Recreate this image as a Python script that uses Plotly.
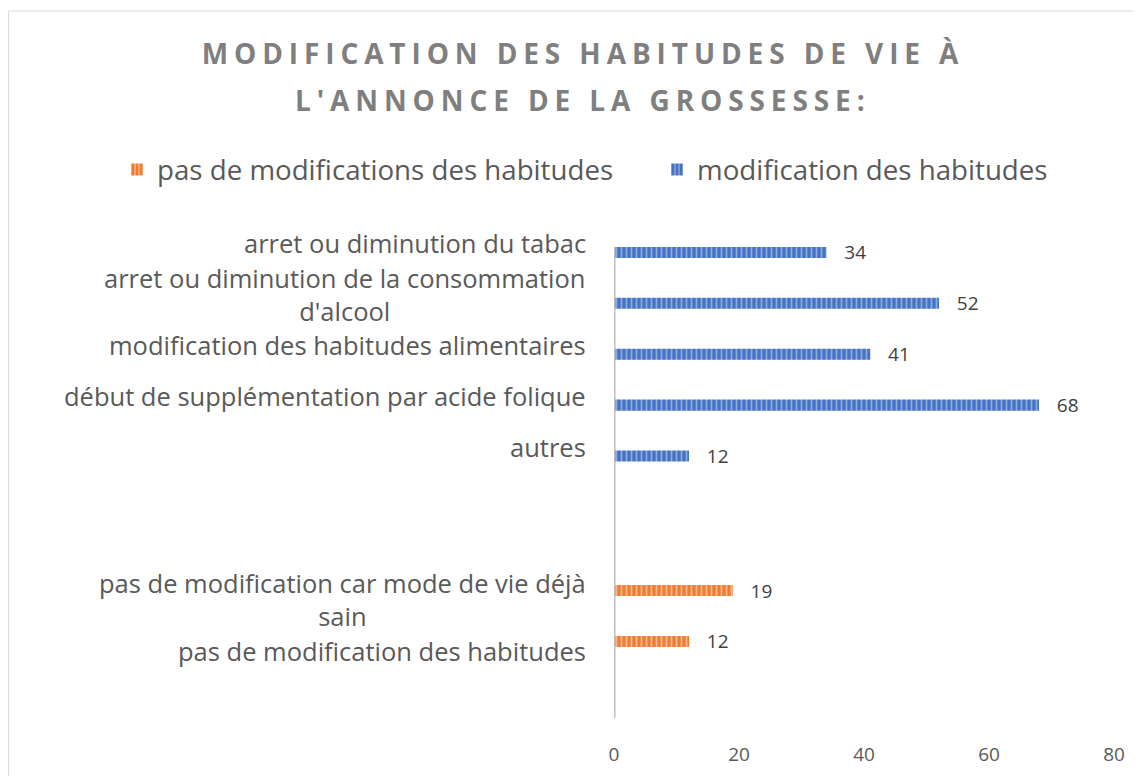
import plotly.graph_objects as go

categories = [
    "arret ou diminution du tabac",
    "arret ou diminution de la consommation<br>d'alcool",
    "modification des habitudes alimentaires",
    "début de supplémentation par acide folique",
    "autres",
    " ",
    "  ",
    "pas de modification car mode de vie déjà<br>sain",
    "pas de modification des habitudes",
]
modif_values = [34, 52, 41, 68, 12, None, None, None, None]
pas_modif_values = [None, None, None, None, None, None, None, 19, 12]
x_ticks = [0, 20, 40, 60, 80]
title_line1 = "MODIFICATION DES HABITUDES DE VIE À"
title_line2 = "L'ANNONCE DE LA GROSSESSE:"

FONT = "Open Sans"
TXT = "#595959"
PAD = "\u00a0\u00a0\u00a0"
SPACING = "letter-spacing:5.9px"

fig = go.Figure()
fig.add_trace(go.Bar(
    name="pas de modifications des habitudes",
    y=categories, x=pas_modif_values, orientation="h",
    marker=dict(color="#ED7D31", line=dict(width=0),
                pattern=dict(shape="|", size=5, solidity=0.35,
                             fgcolor="#F6B88E", bgcolor="#ED7D31", fillmode="replace")),
    text=[(PAD + str(v)) if v is not None else "" for v in pas_modif_values],
    textposition="outside", constraintext="none", cliponaxis=False,
    textfont=dict(family=FONT, size=19, color="#404040"),
))
fig.add_trace(go.Bar(
    name="modification des habitudes",
    y=categories, x=modif_values, orientation="h",
    marker=dict(color="#4472C4", line=dict(width=0),
                pattern=dict(shape="|", size=5, solidity=0.35,
                             fgcolor="#8EA9DB", bgcolor="#4472C4", fillmode="replace")),
    text=[(PAD + str(v)) if v is not None else "" for v in modif_values],
    textposition="outside", constraintext="none", cliponaxis=False,
    textfont=dict(family=FONT, size=19, color="#404040"),
))

for c in categories:
    if c.strip():
        fig.add_annotation(x=-0.052, xref="paper", y=c, yref="y", text=c,
                           xanchor="right", yanchor="middle", align="center",
                           showarrow=False,
                           font=dict(family=FONT, size=25.5, color=TXT))

# second title line
fig.add_annotation(x=-0.062, xref="paper", y=1.2278, yref="paper",
                   text='<b><span style="' + SPACING + '">' + title_line2 + '</span></b>',
                   xanchor="center", yanchor="middle", showarrow=False,
                   font=dict(family=FONT, size=28, color="#7F7F7F"))

# axis line (partial, like Excel)
fig.add_shape(type="line", xref="x", x0=0, x1=0, yref="paper", y0=0.0347, y1=0.944,
              line=dict(color="#BFBFBF", width=3))
# chart border
fig.add_shape(type="rect", xref="paper", yref="paper", x0=-1.211, x1=1.2, y0=-0.2, y1=1.3996,
              line=dict(color="#D9D9D9", width=1), layer="below")

fig.update_layout(
    width=1133, height=768,
    margin=dict(l=606, r=27, t=210, b=40, autoexpand=False),
    paper_bgcolor="white", plot_bgcolor="white",
    barmode="group", bargap=0.29, bargroupgap=0.39,
    title=dict(text='<b><span style="' + SPACING + '">' + title_line1 + '</span></b>',
               x=0.5075, xref="container", xanchor="center",
               y=1 - 46 / 768, yref="container", yanchor="middle",
               font=dict(family=FONT, size=28, color="#7F7F7F")),
    legend=dict(orientation="h", x=-0.994, xref="paper", xanchor="left",
                y=1.0927, yref="paper", yanchor="middle",
                font=dict(family=FONT, size=27.7, color=TXT), traceorder="normal",
                itemwidth=30, entrywidth=495, entrywidthmode="pixels"),
    showlegend=True,
    xaxis=dict(range=[0, 80], tickvals=x_ticks, showgrid=False, zeroline=False,
               showline=False, ticks="", automargin=False, ticklabelstandoff=5,
               tickfont=dict(family=FONT, size=19, color=TXT)),
    yaxis=dict(range=[9.68, -0.5], showticklabels=False, showgrid=False,
               zeroline=False, showline=False, ticks="", automargin=False),
)

fig.write_html("out.html")
